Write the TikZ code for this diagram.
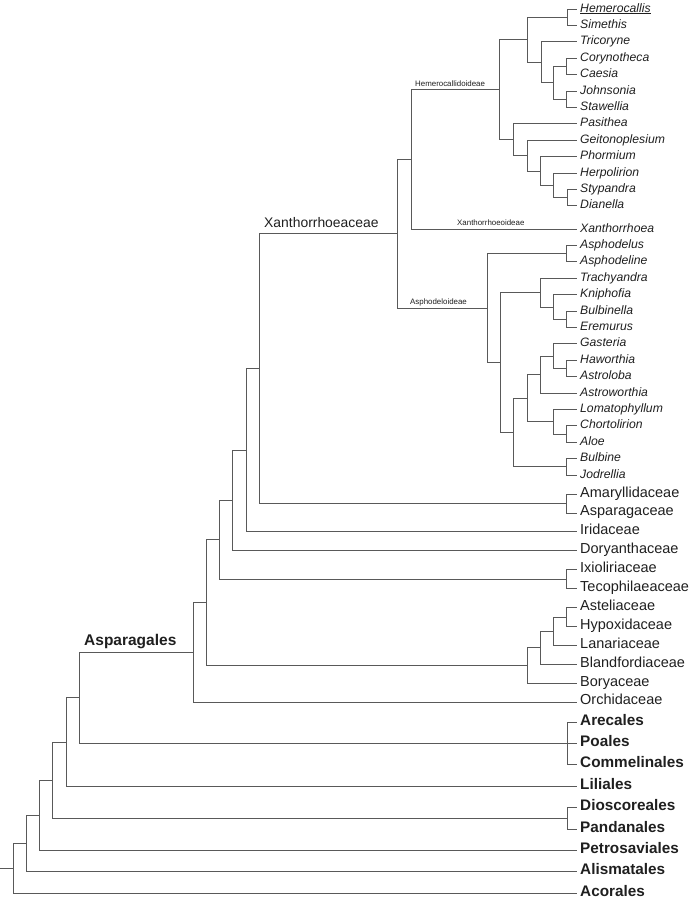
\documentclass[tikz,border=0pt]{standalone}
\usepackage{fontspec}
\setmainfont{Liberation Sans}
\usepackage{tikz}

\begin{document}
\begin{tikzpicture}[x=1pt,y=-1pt,
  branch/.style={draw=black!65,line width=0.8pt},
  tip/.style={anchor=west,inner xsep=3pt,inner ysep=0pt,text height=0.72em,text depth=0.12em,text=black!88},
  genus/.style={tip,font=\fontsize{12.2}{14}\selectfont\itshape},
  family/.style={tip,font=\fontsize{14.5}{16}\selectfont},
  order/.style={tip,font=\fontsize{15.3}{17}\selectfont\bfseries},
  subfam/.style={anchor=base west,inner sep=0pt,text=black!88,font=\fontsize{7.9}{9}\selectfont},
  clade/.style={anchor=base west,inner sep=0pt,text=black!88}]
  \useasboundingbox (0,0) rectangle (690,900);
  % genera
  \node[genus] (hem) at (577,9) {\underline{Hemerocallis}};
  \node[genus] (sim) at (577,25.4) {Simethis};
  \node[genus] (tri) at (577,41.8) {Tricoryne};
  \node[genus] (cory) at (577,58.2) {Corynotheca};
  \node[genus] (caes) at (577,74.6) {Caesia};
  \node[genus] (john) at (577,91) {Johnsonia};
  \node[genus] (staw) at (577,107.4) {Stawellia};
  \node[genus] (pasi) at (577,123.8) {Pasithea};
  \node[genus] (geit) at (577,140.2) {Geitonoplesium};
  \node[genus] (phor) at (577,156.6) {Phormium};
  \node[genus] (herp) at (577,173) {Herpolirion};
  \node[genus] (styp) at (577,189.4) {Stypandra};
  \node[genus] (dian) at (577,205.8) {Dianella};
  \node[genus] (xan) at (577,229) {Xanthorrhoea};
  \node[genus] (asphs) at (577,245.4) {Asphodelus};
  \node[genus] (asphl) at (577,261.8) {Asphodeline};
  \node[genus] (trac) at (577,278.2) {Trachyandra};
  \node[genus] (knip) at (577,294.6) {Kniphofia};
  \node[genus] (bulbl) at (577,311) {Bulbinella};
  \node[genus] (erem) at (577,327.4) {Eremurus};
  \node[genus] (gast) at (577,343.8) {Gasteria};
  \node[genus] (hawo) at (577,360.2) {Haworthia};
  \node[genus] (astl) at (577,376.6) {Astroloba};
  \node[genus] (astw) at (577,393) {Astroworthia};
  \node[genus] (loma) at (577,409.4) {Lomatophyllum};
  \node[genus] (chor) at (577,425.8) {Chortolirion};
  \node[genus] (aloe) at (577,442.2) {Aloe};
  \node[genus] (bulb) at (577,458.6) {Bulbine};
  \node[genus] (jodr) at (577,475) {Jodrellia};
  % families
  \node[family] (amar) at (577,494) {Amaryllidaceae};
  \node[family] (aspa) at (577,512.9) {Asparagaceae};
  \node[family] (irid) at (577,531.8) {Iridaceae};
  \node[family] (dory) at (577,550.7) {Doryanthaceae};
  \node[family] (ixio) at (577,569.6) {Ixioliriaceae};
  \node[family] (teco) at (577,588.5) {Tecophilaeaceae};
  \node[family] (aste) at (577,607.4) {Asteliaceae};
  \node[family] (hypo) at (577,626.3) {Hypoxidaceae};
  \node[family] (lana) at (577,645.2) {Lanariaceae};
  \node[family] (blan) at (577,664.1) {Blandfordiaceae};
  \node[family] (bory) at (577,683) {Boryaceae};
  \node[family] (orch) at (577,701.9) {Orchidaceae};
  % orders
  \node[order] (arec) at (577,722) {Arecales};
  \node[order] (poal) at (577,743.4) {Poales};
  \node[order] (comm) at (577,764.8) {Commelinales};
  \node[order] (lili) at (577,786.2) {Liliales};
  \node[order] (dios) at (577,807.6) {Dioscoreales};
  \node[order] (pand) at (577,829) {Pandanales};
  \node[order] (petr) at (577,850.4) {Petrosaviales};
  \node[order] (alis) at (577,871.8) {Alismatales};
  \node[order] (acor) at (577,893.2) {Acorales};
  % internal nodes, Hemerocallidoideae
  \coordinate (c_hs) at (567,17.2);
  \coordinate (c_cc) at (566,66.4);
  \coordinate (c_js) at (566,99.2);
  \coordinate (c_cj) at (553,82.8);
  \coordinate (c_tr) at (541,62.3);
  \coordinate (c_ht) at (527,39.7);
  \coordinate (c_sd) at (567,197.6);
  \coordinate (c_hsd) at (553,185.3);
  \coordinate (c_phd) at (540,171);
  \coordinate (c_gpd) at (527,155.6);
  \coordinate (c_pgd) at (513,139.7);
  \coordinate (c_hemd) at (499,89.7);
  \coordinate (c_hx) at (411,159.4);
  % Asphodeloideae
  \coordinate (c_as) at (566,253.6);
  \coordinate (c_be) at (566,319.2);
  \coordinate (c_kbe) at (553,306.9);
  \coordinate (c_tkbe) at (540,292.6);
  \coordinate (c_ha) at (566,368.4);
  \coordinate (c_gha) at (553,356.1);
  \coordinate (c_ghaa) at (540,374.6);
  \coordinate (c_ca) at (566,434);
  \coordinate (c_lca) at (553,421.7);
  \coordinate (c_al) at (527,398.2);
  \coordinate (c_bj) at (566,466.8);
  \coordinate (c_alb) at (513,432.5);
  \coordinate (c_tra) at (500,362.5);
  \coordinate (c_asph) at (487,308);
  \coordinate (c_xant) at (397,233.7);
  % rest of Asparagales
  \coordinate (c_amas) at (566,503.5);
  \coordinate (c_x1) at (259,368.6);
  \coordinate (c_x2) at (246,450.2);
  \coordinate (c_x3) at (232,500.5);
  \coordinate (c_it) at (566,579);
  \coordinate (c_x4) at (219,539.8);
  \coordinate (c_ah) at (566,616.9);
  \coordinate (c_ahl) at (553,631);
  \coordinate (c_ahlb) at (540,647.6);
  \coordinate (c_bory) at (527,665.3);
  \coordinate (c_x5) at (206,602.5);
  \coordinate (c_aspg) at (193,652.2);
  % monocot orders
  \coordinate (c_apc) at (567,743.4);
  \coordinate (c_o1) at (79,697.8);
  \coordinate (c_o2) at (66,742);
  \coordinate (c_dp) at (567,818.3);
  \coordinate (c_o3) at (52,780.2);
  \coordinate (c_o4) at (39,815.3);
  \coordinate (c_o5) at (26,843.5);
  \coordinate (c_root) at (13,868.4);
  \coordinate (stem) at (0,868.4);
  % branches
  \draw[branch] (c_hs) |- (hem.west) (c_hs) |- (sim.west);
  \draw[branch] (c_cc) |- (cory.west) (c_cc) |- (caes.west);
  \draw[branch] (c_js) |- (john.west) (c_js) |- (staw.west);
  \draw[branch] (c_cj) |- (c_cc) (c_cj) |- (c_js);
  \draw[branch] (c_tr) |- (tri.west) (c_tr) |- (c_cj);
  \draw[branch] (c_ht) |- (c_hs) (c_ht) |- (c_tr);
  \draw[branch] (c_sd) |- (styp.west) (c_sd) |- (dian.west);
  \draw[branch] (c_hsd) |- (herp.west) (c_hsd) |- (c_sd);
  \draw[branch] (c_phd) |- (phor.west) (c_phd) |- (c_hsd);
  \draw[branch] (c_gpd) |- (geit.west) (c_gpd) |- (c_phd);
  \draw[branch] (c_pgd) |- (pasi.west) (c_pgd) |- (c_gpd);
  \draw[branch] (c_hemd) |- (c_ht) (c_hemd) |- (c_pgd);
  \draw[branch] (c_hx) |- (c_hemd) (c_hx) |- (xan.west);
  \draw[branch] (c_as) |- (asphs.west) (c_as) |- (asphl.west);
  \draw[branch] (c_be) |- (bulbl.west) (c_be) |- (erem.west);
  \draw[branch] (c_kbe) |- (knip.west) (c_kbe) |- (c_be);
  \draw[branch] (c_tkbe) |- (trac.west) (c_tkbe) |- (c_kbe);
  \draw[branch] (c_ha) |- (hawo.west) (c_ha) |- (astl.west);
  \draw[branch] (c_gha) |- (gast.west) (c_gha) |- (c_ha);
  \draw[branch] (c_ghaa) |- (c_gha) (c_ghaa) |- (astw.west);
  \draw[branch] (c_ca) |- (chor.west) (c_ca) |- (aloe.west);
  \draw[branch] (c_lca) |- (loma.west) (c_lca) |- (c_ca);
  \draw[branch] (c_al) |- (c_ghaa) (c_al) |- (c_lca);
  \draw[branch] (c_bj) |- (bulb.west) (c_bj) |- (jodr.west);
  \draw[branch] (c_alb) |- (c_al) (c_alb) |- (c_bj);
  \draw[branch] (c_tra) |- (c_tkbe) (c_tra) |- (c_alb);
  \draw[branch] (c_asph) |- (c_as) (c_asph) |- (c_tra);
  \draw[branch] (c_xant) |- (c_hx) (c_xant) |- (c_asph);
  \draw[branch] (c_amas) |- (amar.west) (c_amas) |- (aspa.west);
  \draw[branch] (c_x1) |- (c_xant) (c_x1) |- (c_amas);
  \draw[branch] (c_x2) |- (c_x1) (c_x2) |- (irid.west);
  \draw[branch] (c_x3) |- (c_x2) (c_x3) |- (dory.west);
  \draw[branch] (c_it) |- (ixio.west) (c_it) |- (teco.west);
  \draw[branch] (c_x4) |- (c_x3) (c_x4) |- (c_it);
  \draw[branch] (c_ah) |- (aste.west) (c_ah) |- (hypo.west);
  \draw[branch] (c_ahl) |- (c_ah) (c_ahl) |- (lana.west);
  \draw[branch] (c_ahlb) |- (c_ahl) (c_ahlb) |- (blan.west);
  \draw[branch] (c_bory) |- (c_ahlb) (c_bory) |- (bory.west);
  \draw[branch] (c_x5) |- (c_x4) (c_x5) |- (c_bory);
  \draw[branch] (c_aspg) |- (c_x5) (c_aspg) |- (orch.west);
  \draw[branch] (c_apc) |- (arec.west) (c_apc) -- (poal.west) (c_apc) |- (comm.west);
  \draw[branch] (c_o1) |- (c_aspg) (c_o1) |- (c_apc);
  \draw[branch] (c_o2) |- (c_o1) (c_o2) |- (lili.west);
  \draw[branch] (c_dp) |- (dios.west) (c_dp) |- (pand.west);
  \draw[branch] (c_o3) |- (c_o2) (c_o3) |- (c_dp);
  \draw[branch] (c_o4) |- (c_o3) (c_o4) |- (petr.west);
  \draw[branch] (c_o5) |- (c_o4) (c_o5) |- (alis.west);
  \draw[branch] (c_root) |- (c_o5) (c_root) |- (acor.west);
  \draw[branch] (stem) -- (c_root);
  % clade names
  \node[subfam] (lhemd) at (415,86.5) {Hemerocallidoideae};
  \node[subfam] (lxanoid) at (457,225.5) {Xanthorrhoeoideae};
  \node[subfam] (lasph) at (410,304.5) {Asphodeloideae};
  \node[clade,font=\fontsize{13.9}{16}\selectfont] (lxant) at (264,227) {Xanthorrhoeaceae};
  \node[clade,font=\fontsize{15.5}{17}\selectfont\bfseries] (laspg) at (84,645.5) {Asparagales};
\end{tikzpicture}
\end{document}
